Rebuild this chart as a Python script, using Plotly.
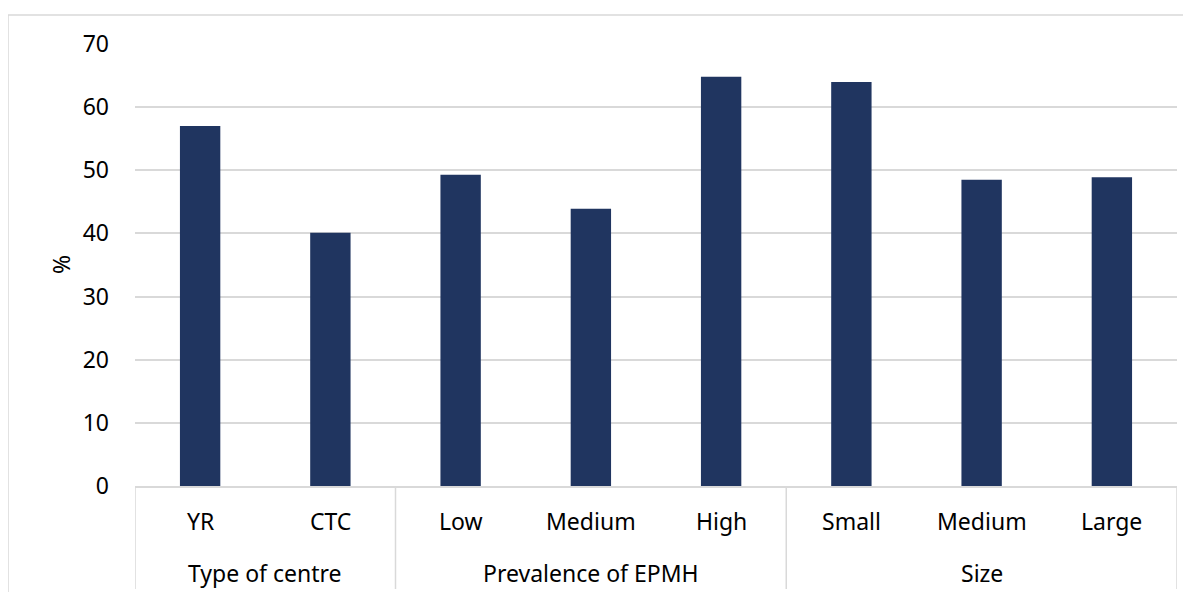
import plotly.graph_objects as go

categories = ["YR", "CTC", "Low", "Medium", "High", "Small", "Medium", "Large"]
groups = ["Type of centre", "Type of centre",
          "Prevalence of EPMH", "Prevalence of EPMH", "Prevalence of EPMH",
          "Size", "Size", "Size"]
values = [57.0, 40.1, 49.3, 43.9, 64.8, 64.0, 48.5, 48.9]
y_ticks = [0, 10, 20, 30, 40, 50, 60, 70]

FONT = "Noto Sans"
FS = 23
BAR = "#203560"
GRID = "#d9d9d9"

OFF = 8  # page body margin
W, H = 1191 - OFF, 592 - OFF
L, T = 135 - OFF, 44 - OFF
R = 14
plot_h = 442
B = H - T - plot_h
plot_w = W - L - R
Y0 = 486  # reference pixel of y=0

xs = list(range(len(categories)))
fig = go.Figure(go.Bar(x=xs, y=values, marker_color=BAR, marker_line_width=0,
                       width=0.31))

# group spans
spans = []
start = 0
for i in range(1, len(groups) + 1):
    if i == len(groups) or groups[i] != groups[start]:
        spans.append((groups[start], start, i - 1))
        start = i

shapes = []
annotations = []
div_bottom = -(589 - Y0) / plot_h
for name, a, b in spans:
    annotations.append(dict(x=(a + b) / 2, y=-(573 - Y0) / plot_h, xref="x", yref="paper",
                            text=name, showarrow=False, xanchor="center", yanchor="middle",
                            font=dict(family=FONT, size=FS, color="#000")))
for xv in [-0.5] + [b + 0.5 for _, _, b in spans]:
    shapes.append(dict(type="line", xref="x", yref="paper", x0=xv, x1=xv,
                       y0=0, y1=div_bottom, line=dict(color=GRID, width=1.5)))
for i, c in enumerate(categories):
    annotations.append(dict(x=i, y=-(521 - Y0) / plot_h, xref="x", yref="paper",
                            text=c, showarrow=False, xanchor="center", yanchor="middle",
                            font=dict(family=FONT, size=FS, color="#000")))
annotations.append(dict(x=(61 - 135) / plot_w, y=(Y0 - 265) / plot_h, xref="paper", yref="paper",
                        text="%", showarrow=False, textangle=-90,
                        xanchor="center", yanchor="middle",
                        font=dict(family=FONT, size=FS, color="#000")))
# outer chart border
shapes.append(dict(type="rect", xref="paper", yref="paper",
                   x0=(8 - 135) / plot_w, x1=(1200 - 135) / plot_w,
                   y0=-(600 - Y0) / plot_h, y1=(Y0 - 15) / plot_h,
                   line=dict(color=GRID, width=1.5), fillcolor="rgba(0,0,0,0)"))

fig.update_layout(
    width=W, height=H,
    margin=dict(l=L, r=R, t=T, b=B),
    paper_bgcolor="white", plot_bgcolor="white",
    showlegend=False,
    shapes=shapes, annotations=annotations,
    xaxis=dict(range=[-0.5, len(categories) - 0.5], showticklabels=False,
               showgrid=False, zeroline=False, showline=True,
               linecolor=GRID, linewidth=1.5, ticks=""),
    yaxis=dict(range=[0, 70], tickvals=y_ticks, showgrid=True, gridcolor=GRID,
               gridwidth=1.5, zeroline=False, showline=False, ticks="",
               ticklabelstandoff=25,
               tickfont=dict(family=FONT, size=FS, color="#000")),
)

fig.write_html("out.html")
